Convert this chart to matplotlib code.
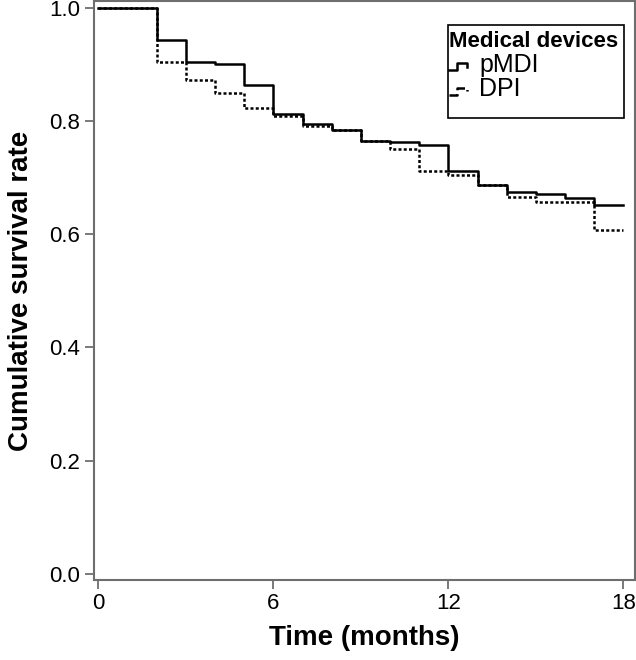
"""Kaplan-Meier style survival curves for two inhaler device groups."""

import numpy as np
import matplotlib
matplotlib.use("Agg")
import matplotlib.pyplot as plt
from matplotlib.legend_handler import HandlerBase
from matplotlib.lines import Line2D
from matplotlib.patches import Rectangle

plt.rcParams["font.family"] = ["Liberation Sans", "DejaVu Sans"]

# step times (months) and survival values
months = np.arange(0, 19)
pmdi = [1.0, 1.0, 0.942, 0.904, 0.901, 0.863, 0.812, 0.794, 0.783, 0.764,
        0.762, 0.758, 0.711, 0.686, 0.675, 0.671, 0.663, 0.652, 0.652]
dpi = [1.0, 1.0, 0.904, 0.872, 0.849, 0.822, 0.809, 0.791, 0.783, 0.764,
       0.750, 0.712, 0.705, 0.686, 0.666, 0.657, 0.656, 0.607, 0.607]
labels = ["pMDI", "DPI"]
x_ticks = [0, 6, 12, 18]
y_ticks = [0.0, 0.2, 0.4, 0.6, 0.8, 1.0]

W, H = 636, 660
SPINE = "#6e6e6e"
DOTS = (0, (1.2, 0.9))


class StepHandler(HandlerBase):
    """Small step-shaped legend key, like the SPSS survival plot."""

    def create_artists(self, legend, orig_handle, xdescent, ydescent,
                       width, height, fontsize, trans):
        xs = np.array([0.0, 0.45, 0.45, 0.95, 0.95]) * width - xdescent
        ys = np.array([0.1, 0.1, 0.5, 0.5, 0.3]) * height - ydescent
        ln = Line2D(xs, ys, color=orig_handle.get_color(),
                    linestyle=orig_handle.get_linestyle(),
                    linewidth=orig_handle.get_linewidth())
        ln.set_transform(trans)
        return [ln]


fig = plt.figure(figsize=(W / 100, H / 100), dpi=100)
ax = fig.add_axes([93.5 / W, 80 / H, 541 / W, 579 / H])

h1, = ax.step(months, pmdi, where="post", color="black", lw=1.8,
              label=labels[0])
h2, = ax.step(months, dpi, where="post", color="black", lw=1.8,
              linestyle=DOTS, label=labels[1])

ax.set_xlim(-0.17, 18.38)
ax.set_ylim(-0.0106, 1.0115)
ax.set_xticks(x_ticks)
ax.set_yticks(y_ticks)
ax.set_yticklabels([f"{v:.1f}" for v in y_ticks])

for s in ax.spines.values():
    s.set_color(SPINE)
    s.set_linewidth(1.5)
ax.tick_params(direction="out", length=6.5, width=1.3, color=SPINE,
               labelsize=16, pad=3)

ax.set_xlabel("Time (months)", fontsize=20, fontweight="bold", labelpad=8)
ax.set_ylabel("Cumulative survival rate", fontsize=20, fontweight="bold",
              labelpad=11)

# legend contents without its own frame; box drawn separately
leg = ax.legend(handles=[h1, h2], title="Medical devices",
                handler_map={Line2D: StepHandler()},
                loc="upper left", bbox_to_anchor=(449 / W, 1 - 31 / H),
                bbox_transform=fig.transFigure, borderaxespad=0,
                fontsize=18, title_fontproperties={"size": 16, "weight": "bold"},
                alignment="left", frameon=False, handlelength=0.75,
                handletextpad=0.45, labelspacing=0.03, borderpad=0)
leg.set_zorder(6)
ax.add_patch(Rectangle((447.5 / W, 1 - 117.5 / H), 176.5 / W, 92.5 / H,
                       transform=fig.transFigure, fill=True, fc="white",
                       ec="black", lw=1.2, zorder=5, clip_on=False))

fig.savefig("out.png", dpi=100)
